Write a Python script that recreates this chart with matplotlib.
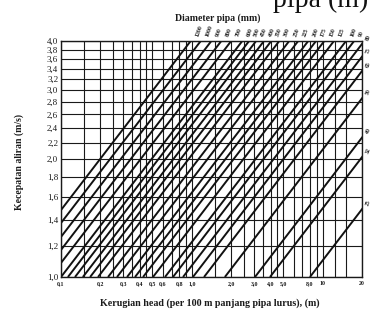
import math
import matplotlib
matplotlib.use("Agg")
import matplotlib.pyplot as plt
from matplotlib.ticker import FixedLocator, NullLocator

plt.rcParams['font.family'] = ['Liberation Serif', 'DejaVu Serif']

# Velocity axis (m/s)
vel_ticks = [1.0, 1.2, 1.4, 1.6, 1.8, 2.0, 2.2, 2.4, 2.6, 2.8, 3.0, 3.2, 3.4, 3.6, 3.8, 4.0]
vel_labels = ["1,0", "1,2", "1,4", "1,6", "1,8", "2,0", "2,2", "2,4", "2,6", "2,8",
              "3,0", "3,2", "3,4", "3,6", "3,8", "4,0"]

# Head-loss axis (m per 100 m pipe)
head_ticks = [0.1, 0.2, 0.3, 0.4, 0.5, 0.6, 0.8, 1.0, 2.0, 3.0, 4.0, 5.0, 8.0, 10, 20]
head_labels = ["0,1", "0,2", "0,3", "0,4", "0,5", "0,6", "0,8", "1,0", "2,0", "3,0",
               "4,0", "5,0", "8,0", "10", "20"]
head_grid = [0.1, 0.15, 0.2, 0.25, 0.3, 0.35, 0.4, 0.45, 0.5, 0.6, 0.7, 0.8, 0.9, 1.0,
             1.5, 2.0, 2.5, 3.0, 3.5, 4.0, 4.5, 5.0, 6.0, 7.0, 8.0, 9.0, 10, 12.5, 15, 20]

# Pipe diameter lines: head loss at 1 m/s and at 4 m/s
diameters = ["1200", "1000", "900", "800", "700", "600", "500", "450", "400", "350",
             "300", "250", "225", "200", "175", "150", "125", "100", "90", "80",
             "75", "65", "50", "40", "32", "25"]
head_at_1 = [0.0405, 0.0482, 0.0582, 0.0694, 0.0827, 0.100, 0.113, 0.128, 0.147, 0.167,
             0.192, 0.229, 0.268, 0.320, 0.368, 0.424, 0.505, 0.624, 0.718, 0.857,
             1.02, 1.24, 1.79, 3.04, 3.96, 8.0]
head_at_4 = [0.98, 1.17, 1.41, 1.68, 2.0, 2.43, 2.74, 3.1, 3.56, 4.05,
             4.66, 5.55, 6.5, 7.76, 8.9, 10.3, 12.2, 15.1, 17.4, 20.8,
             24.7, 30.0, 43.4, 73.7, 96.0, 194.0]

fig = plt.figure(figsize=(3.73, 3.25), dpi=100)
ax = fig.add_axes([0.1635, 0.1477, 0.807, 0.726])
ax.set_xscale("log")
ax.set_yscale("log")
xmin, xmax = 0.1, 20
ymin, ymax = 1.0, 4.0
ax.set_xlim(xmin, xmax)
ax.set_ylim(ymin, ymax)

ink = "#1a1a1a"
for h in head_grid:
    ax.axvline(h, color=ink, lw=0.8, zorder=1)
for v in vel_ticks:
    ax.axhline(v, color=ink, lw=0.8, zorder=1)

for d, h1, h4 in zip(diameters, head_at_1, head_at_4):
    ax.plot([h1, h4], [1.0, 4.0], color="#111111", lw=1.4, zorder=2,
            solid_capstyle="butt")
    # label where the line leaves the chart
    if h4 <= xmax:
        ax.annotate(d, xy=(h4, ymax), xytext=(3, 3), textcoords="offset points",
                    fontsize=4.2, fontweight="bold", rotation=70,
                    ha="left", va="bottom", color=ink, annotation_clip=False)
    else:
        t = (math.log(xmax) - math.log(h1)) / (math.log(h4) - math.log(h1))
        v_edge = math.exp(t * math.log(4.0))
        ax.annotate(d, xy=(xmax, v_edge), xytext=(2, 2), textcoords="offset points",
                    fontsize=4.2, fontweight="bold", rotation=70,
                    ha="left", va="bottom", color=ink, annotation_clip=False)

for s in ax.spines.values():
    s.set_color(ink)
    s.set_linewidth(1.0)

ax.xaxis.set_major_locator(FixedLocator(head_ticks))
ax.xaxis.set_minor_locator(NullLocator())
ax.set_xticklabels(head_labels)
ax.yaxis.set_major_locator(FixedLocator(vel_ticks))
ax.yaxis.set_minor_locator(NullLocator())
ax.set_yticklabels(vel_labels)
ax.tick_params(axis="x", length=0, pad=3, labelsize=4.2, colors=ink)
ax.tick_params(axis="y", length=0, pad=2, labelsize=6.5, colors=ink)
for lbl in ax.get_xticklabels():
    lbl.set_fontweight("bold")

fig.text(0.584, 0.945, "Diameter pipa (mm)", ha="center", va="center",
         fontsize=7, fontweight="bold", color=ink)
fig.text(0.051, 0.50, "Kecepatan aliran (m/s)", ha="center", va="center",
         rotation=90, fontsize=7, fontweight="bold", color=ink)
fig.text(0.563, 0.068, "Kerugian head (per 100 m panjang pipa lurus), (m)",
         ha="center", va="center", fontsize=7.2, fontweight="bold", color=ink)
# running text of the page above the diagram, cut at the top edge
fig.text(0.732, 0.979, "pipa (m)", ha="left", va="baseline",
         fontsize=20, color="#111111")

fig.savefig("out.png", dpi=100, facecolor="white")
